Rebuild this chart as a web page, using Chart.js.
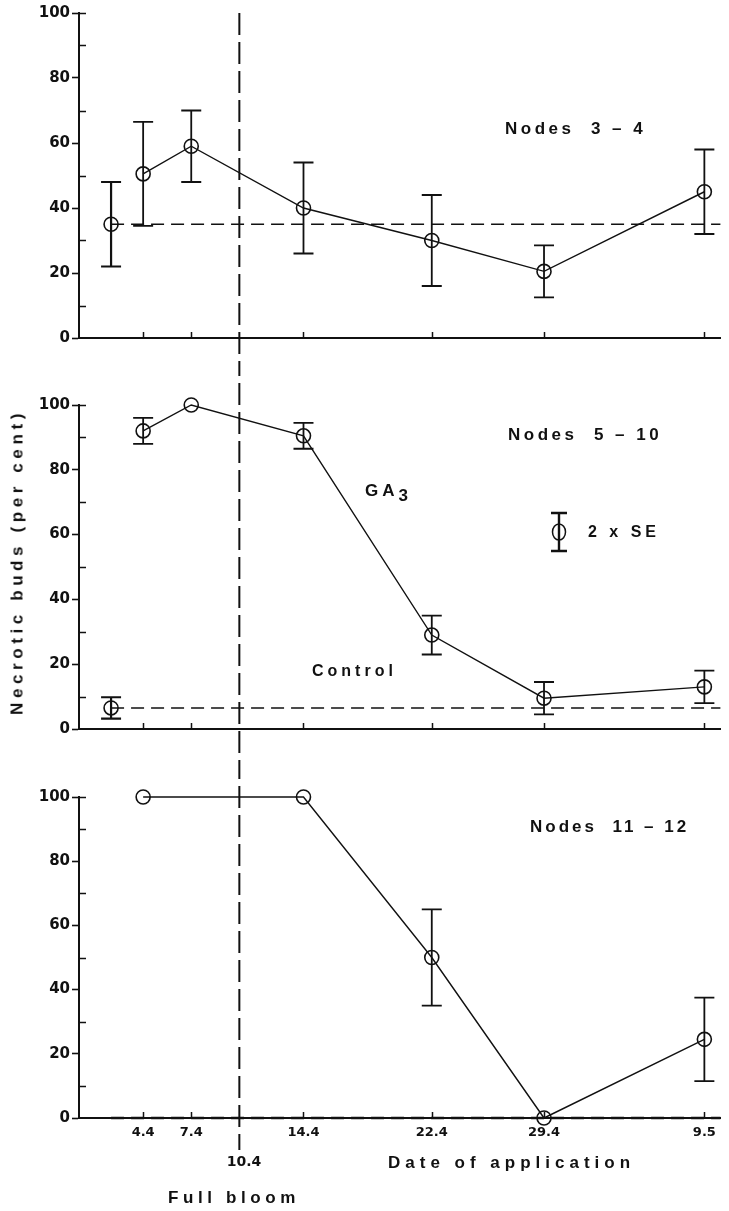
<!DOCTYPE html>
<html>
<head>
<meta charset="utf-8">
<script src="https://cdn.jsdelivr.net/npm/chart.js@4.4.1/dist/chart.umd.min.js"></script>
<style>
html,body{margin:0;padding:0;background:#fff;}
#wrap{position:relative;width:729px;height:1211px;overflow:hidden;}
canvas{position:absolute;left:0;}
.lbl{position:absolute;font:bold 17px "Liberation Sans",Arial,sans-serif;letter-spacing:3.5px;color:#111;white-space:nowrap;line-height:1;}
.tk{font:bold 14px "DejaVu Sans",sans-serif;letter-spacing:0;}
</style>
</head>
<body>
<div id="wrap">
  <canvas id="c1"></canvas>
  <canvas id="c2"></canvas>
  <canvas id="c3"></canvas>

  <div class="lbl" style="left:505px;top:120px">Nodes&nbsp; 3 – 4</div>
  <div class="lbl" style="left:508px;top:426px">Nodes&nbsp; 5 – 10</div>
  <div class="lbl" style="left:530px;top:818px;letter-spacing:3px">Nodes&nbsp; 11 – 12</div>
  <div class="lbl" style="left:365px;top:482px;letter-spacing:4px">GA<span style="position:relative;top:5px">3</span></div>
  <div class="lbl" style="left:588px;top:524px;font-size:16px;letter-spacing:4px">2 x SE</div>
  <div class="lbl" style="left:312px;top:663px;font-size:16px;letter-spacing:4px">Control</div>
  <div class="lbl tk" style="left:244px;top:1153px;transform:translateX(-50%)">10.4</div>
  <div class="lbl" style="left:388px;top:1154px;letter-spacing:5px">Date of application</div>
  <div class="lbl" style="left:168px;top:1189px;letter-spacing:4.6px">Full bloom</div>
  <div class="lbl" style="left:17px;top:562px;letter-spacing:4.6px;transform:translate(-50%,-50%) rotate(-90deg)">Necrotic buds (per cent)</div>
</div>

<script>
// dates of application, as days from 1 April (9.5 = day 39)
const days = [4, 7, 14, 22, 29, 39];
const xTickDays = [4, 7, 14, 22, 29, 39];
const xTickLabels = ["4.4", "7.4", "14.4", "22.4", "29.4", "9.5"];
const yTickValues = [0, 20, 40, 60, 80, 100];
const yTickLabels = ["0", "20", "40", "60", "80", "100"];
const controlDay = 2;
const fullBloomDay = 10;

// Nodes 3-4
const n34Ga3 = [50.5, 59, 40, 30, 20.5, 45];
const n34Err = [16, 11, 14, 14, 8, 13];
const n34Control = 35;
const n34ControlErr = 13;

// Nodes 5-10
const n510Ga3 = [92, 100, 90.5, 29, 9.5, 13];
const n510Err = [4, null, 4, 6, 5, 5];
const n510Control = 6.5;
const n510ControlErr = 3.3;

// Nodes 11-12
const n1112Ga3 = [100, null, 100, 50, 0, 24.5];
const n1112Err = [null, null, null, 15, null, 13];
const n1112Control = 0;
const n1112ControlErr = null;

const INK = "#111";

const panels = [
  {id:"c1", top:0,   height:372, areaTop:13,  areaBottom:338,  ga3:n34Ga3,   err:n34Err,   ctrl:n34Control,   ctrlErr:n34ControlErr,   ctrlPoint:true,  bloomFrom:13,  bloomTo:372},
  {id:"c2", top:372, height:390, areaTop:405, areaBottom:729,  ga3:n510Ga3,  err:n510Err,  ctrl:n510Control,  ctrlErr:n510ControlErr,  ctrlPoint:true,  bloomFrom:372, bloomTo:762, legend:true},
  {id:"c3", top:762, height:449, areaTop:797, areaBottom:1118, ga3:n1112Ga3, err:n1112Err, ctrl:n1112Control, ctrlErr:n1112ControlErr, ctrlPoint:false, bloomFrom:762, bloomTo:1150, showX:true}
];

function bars(ctx, x, yTop, yBot, half, w){
  ctx.lineWidth = w;
  ctx.beginPath();
  ctx.moveTo(x, yTop); ctx.lineTo(x, yBot);
  ctx.moveTo(x-half, yTop); ctx.lineTo(x+half, yTop);
  ctx.moveTo(x-half, yBot); ctx.lineTo(x+half, yBot);
  ctx.stroke();
}

/* error bars, full bloom line, axis ticks */
const extras = {
  id:"extras",
  afterDatasetsDraw(chart, args, p){
    const {ctx, chartArea:a, scales:{x, y}} = chart;
    ctx.save();
    ctx.strokeStyle = INK;
    ctx.lineCap = "butt";

    // 2 x SE bars
    days.forEach((d,i)=>{
      const v = p.ga3[i], e = p.err[i];
      if(v==null || e==null) return;
      bars(ctx, x.getPixelForValue(d), y.getPixelForValue(v+e), y.getPixelForValue(v-e), 10, 1.8);
    });
    if(p.ctrlErr!=null){
      bars(ctx, x.getPixelForValue(controlDay), y.getPixelForValue(p.ctrl+p.ctrlErr), y.getPixelForValue(p.ctrl-p.ctrlErr), 10, 2.2);
    }

    // upward ticks on the date axis
    ctx.lineWidth = 1.5;
    ctx.beginPath();
    xTickDays.forEach(d=>{
      const px = Math.round(x.getPixelForValue(d))+0.5;
      ctx.moveTo(px, a.bottom); ctx.lineTo(px, a.bottom-6);
    });
    // inward minor ticks on the value axis
    [10,30,50,70,90,100].forEach(v=>{
      const py = Math.round(y.getPixelForValue(v))+0.5;
      ctx.moveTo(a.left, py); ctx.lineTo(a.left+7, py);
    });
    ctx.stroke();

    // full bloom
    const bx = x.getPixelForValue(fullBloomDay);
    ctx.lineWidth = 2;
    ctx.setLineDash([22, 7]);
    ctx.lineDashOffset = -(p.bloomFrom - 13);
    ctx.beginPath();
    ctx.moveTo(bx, p.bloomFrom - p.top);
    ctx.lineTo(bx, p.bloomTo - p.top);
    ctx.stroke();
    ctx.setLineDash([]);

    if(p.legend){
      const lx = 559, ly = 532 - p.top;
      bars(ctx, lx, ly-19, ly+19, 8, 2.4);
      ctx.lineWidth = 1.5;
      ctx.beginPath();
      ctx.ellipse(lx, ly, 6.5, 8, 0, 0, Math.PI*2);
      ctx.stroke();
    }
    ctx.restore();
  }
};

panels.forEach(p=>{
  const cv = document.getElementById(p.id);
  cv.width = 729; cv.height = p.height;
  cv.style.top = p.top + "px";
  cv.style.width = "729px"; cv.style.height = p.height + "px";

  const xAxisH = p.showX ? 28 : 0;
  const datasets = [
    {
      data: days.map((d,i)=>({x:d, y:p.ga3[i]})).filter(pt=>pt.y!=null),
      showLine:true, borderColor:INK, borderWidth:1.4,
      pointRadius:7, pointBorderWidth:1.6, pointBorderColor:INK,
      pointBackgroundColor:"rgba(0,0,0,0)", clip:false
    },
    {
      data: [{x:controlDay, y:p.ctrl}, {x:40, y:p.ctrl}],
      showLine:true, borderColor:INK, borderWidth:p.showX ? 2.4 : 1.4,
      borderDash:[13,7], pointRadius:0, clip:false
    }
  ];
  if(p.ctrlPoint){
    datasets.push({
      data:[{x:controlDay, y:p.ctrl}],
      pointRadius:7, pointBorderWidth:1.6, pointBorderColor:INK,
      pointBackgroundColor:"rgba(0,0,0,0)", clip:false
    });
  }

  new Chart(cv, {
    type:"scatter",
    data:{datasets},
    plugins:[extras],
    options:{
      responsive:false,
      animation:false,
      events:[],
      layout:{padding:{left:0, right:1, top:p.areaTop - p.top, bottom:p.top + p.height - p.areaBottom - xAxisH}},
      plugins:{legend:{display:false}, tooltip:{enabled:false}, extras:p},
      scales:{
        x:{
          type:"linear", min:0, max:40,
          afterBuildTicks: s=>{ s.ticks = xTickDays.map(v=>({value:v})); },
          afterFit: s=>{ s.height = xAxisH; },
          border:{display:true, color:INK, width:2},
          grid:{display:true, drawOnChartArea:false, drawTicks:false},
          ticks:{
            display:!!p.showX, padding:7, color:INK, maxRotation:0, autoSkip:false,
            font:{family:"DejaVu Sans", weight:"bold", size:13},
            callback: v=>xTickLabels[xTickDays.indexOf(v)]
          }
        },
        y:{
          type:"linear", min:0, max:100,
          afterBuildTicks: s=>{
            const t = [];
            for(let v=0; v<=100; v+=10) t.push({value:v});
            s.ticks = t;
          },
          afterFit: s=>{ s.width = 79; },
          border:{display:true, color:INK, width:2},
          grid:{
            display:true, drawOnChartArea:false, drawTicks:true, tickLength:7, tickWidth:1.6,
            tickColor: c=> yTickValues.includes(c.tick.value) ? INK : "rgba(0,0,0,0)"
          },
          ticks:{
            padding:2, color:INK,
            font:{family:"DejaVu Sans", weight:"bold", size:15},
            callback: v=>{
              const i = yTickValues.indexOf(v);
              return i<0 ? "" : yTickLabels[i];
            }
          }
        }
      }
    }
  });
});
</script>
</body>
</html>
